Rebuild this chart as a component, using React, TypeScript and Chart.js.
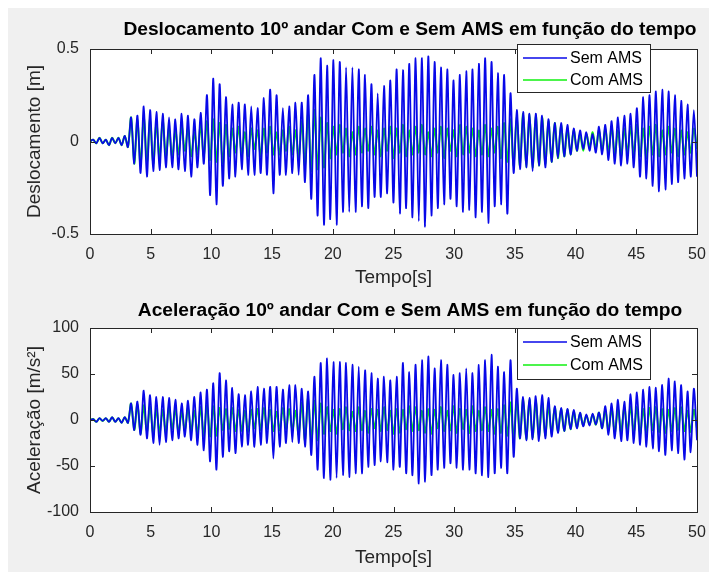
import React, { useEffect, useRef } from "react";
import { Chart, registerables } from "chart.js";
Chart.register(...registerables);

// ---------- DATA ----------
const tempoInicio = 0;
const tempoFim = 50;
const ticksTempo = [0, 5, 10, 15, 20, 25, 30, 35, 40, 45, 50];
const ticksDesloc = [-0.5, 0, 0.5];
const ticksAcel = [-100, -50, 0, 50, 100];
const serieNomes = ["Sem AMS", "Com AMS"];

const semAmsDesloc = [
  0.00, 0.01, -0.01, 0.02, -0.01, 0.01, -0.02, 0.02, -0.01, 0.02, -0.02, 0.03, -0.03,
  0.13, -0.12, 0.14, -0.17, 0.19, -0.19, 0.17, -0.16, 0.16, -0.155, 0.15, -0.14, 0.13, -0.14, 0.12, -0.15, 0.15, -0.16, 0.14, -0.19, 0.12, -0.14, 0.155, -0.12, 0.25, -0.29, 0.34, -0.34, 0.31, -0.24, 0.24, -0.20, 0.20, -0.19, 0.21,
  -0.15, 0.20, -0.18, 0.19, -0.18, 0.18, -0.17, 0.235, -0.18, 0.28, -0.28, 0.25, -0.18, 0.18, -0.18, 0.19, -0.17, 0.21, -0.18, 0.21, -0.22, 0.25, -0.31, 0.36, -0.40, 0.45, -0.45, 0.41, -0.42, 0.44, -0.45, 0.43, -0.38, 0.40, -0.38, 0.40, -0.38, 0.39, -0.35, 0.36, -0.36, 0.31, -0.30, 0.26, -0.30,
  0.30, -0.28, 0.33, -0.33, 0.39, -0.39, 0.385, -0.36, 0.42, -0.41, 0.45, -0.43, 0.45, -0.46, 0.46, -0.40, 0.43, -0.36, 0.40, -0.34, 0.39, -0.31, 0.33, -0.35, 0.36, -0.38, 0.38, -0.37, 0.39, -0.41, 0.42, -0.38, 0.45, -0.44, 0.43, -0.35, 0.37, -0.34, 0.36, -0.39, 0.26, -0.17, 0.17,
  -0.15, 0.16, -0.14, 0.15, -0.16, 0.15, -0.13, 0.14, -0.14, 0.12, -0.11, 0.10, -0.09, 0.10, -0.08, 0.09, -0.07, 0.07, -0.05, 0.06, -0.04, 0.05, -0.05, 0.04, -0.06, 0.08, -0.07, 0.09, -0.10, 0.11, -0.12, 0.13, -0.13, 0.14, -0.12, 0.15, -0.14, 0.18, -0.19, 0.24, -0.20, 0.25, -0.24, 0.27, -0.27, 0.28, -0.26, 0.27, -0.23, 0.25, -0.22, 0.22, -0.20, 0.20, -0.19, 0.17, -0.19,
];

const comAmsDesloc = [
  0.00, 0.01, -0.01, 0.02, -0.01, 0.01, -0.02, 0.02, -0.01, 0.02, -0.02, 0.03, -0.03,
  0.13, -0.12, 0.12, -0.13, 0.13, -0.11, 0.12, -0.12, 0.10, -0.09, 0.11, -0.08, 0.07, -0.09, 0.06, -0.07, 0.08, -0.05, 0.07, -0.08, 0.05, -0.07, 0.09, -0.08, 0.11, -0.10, 0.12, -0.11, 0.10, -0.12, 0.09, -0.08, 0.07, -0.06, 0.08,
  -0.07, 0.05, -0.08, 0.07, -0.04, 0.06, -0.08, 0.07, -0.06, 0.08, -0.07, 0.05, -0.07, 0.06, -0.05, 0.08, -0.07, 0.06, -0.09, 0.11, -0.13, 0.15, -0.16, 0.17, -0.15, 0.13, -0.14, 0.10, -0.09, 0.08, -0.07, 0.09, -0.06, 0.07, -0.08, 0.05, -0.07, 0.08, -0.06, 0.07, -0.05, 0.08, -0.07, 0.06, -0.08,
  0.07, -0.05, 0.08, -0.09, 0.07, -0.06, 0.09, -0.08, 0.06, -0.07, 0.08, -0.06, 0.09, -0.07, 0.05, -0.08, 0.07, -0.06, 0.08, -0.09, 0.07, -0.05, 0.06, -0.08, 0.09, -0.07, 0.08, -0.06, 0.07, -0.08, 0.06, -0.07, 0.09, -0.08, 0.07, -0.06, 0.08, -0.09, 0.10, -0.11, 0.12, -0.13, 0.14,
  -0.13, 0.15, -0.14, 0.15, -0.14, 0.14, -0.13, 0.13, -0.12, 0.11, -0.11, 0.10, -0.09, 0.09, -0.08, 0.07, -0.07, 0.06, -0.05, 0.04, -0.05, 0.04, -0.03, 0.05, -0.04, 0.06, -0.05, 0.07, -0.06, 0.08, -0.07, 0.06, -0.08, 0.07, -0.06, 0.08, -0.07, 0.09, -0.08, 0.07, -0.09, 0.08, -0.07, 0.09, -0.08, 0.06, -0.07, 0.08, -0.06, 0.07, -0.08, 0.06, -0.07, 0.05, -0.06, 0.07, -0.04,
];

const semAmsAcel = [
  0, 1, -2, 2, -1, 2, -2, 3, -2, 2, -3, 3, -3,
  18, -11, 20, -16, 32, -20, 27, -25, 25, -27, 25, -24, 24, -22, 22, -20, 18, -18, 21, -22, 25, -27, 30, -33, 33, -45, 40, -54, 51, -40, 43, -34, 35, -36, 28,
  -29, 27, -27, 31, -29, 36, -27, 34, -25, 36, -42, 36, -29, 33, -25, 38, -24, 38, -25, 34, -29, 31, -38, 47, -54, 62, -63, 67, -65, 63, -63, 63, -60, 62, -62, 60, -58, 58, -58, 54, -51, 51, -49, 45, -45,
  47, -46, 43, -54, 47, -51, 62, -58, 52, -60, 60, -69, 65, -67, 69, -60, 56, -54, 65, -52, 60, -47, 49, -52, 51, -54, 56, -54, 51, -58, 60, -60, 65, -62, 71, -58, 58, -52, 52, -58, 65, -40, 34,
  -20, 25, -22, 24, -21, 26, -23, 27, -20, 24, -18, 15, -14, 13, -12, 12, -10, 11, -9, 8, -7, 6, -6, 7, -5, 8, -9, 15, -16, 18, -20, 22, -23, 20, -22, 28, -25, 30, -27, 33, -29, 36, -31, 35, -34, 38, -38, 45, -33, 42, -36, 38, -43, 31, -35, 34, -22,
];

const comAmsAcel = [
  0, 1, -2, 2, -1, 2, -2, 3, -2, 2, -3, 3, -3,
  18, -11, 17, -15, 16, -13, 15, -16, 12, -14, 11, -13, 15, -10, 12, -14, 9, -11, 13, -12, 10, -15, 14, -17, 16, -18, 15, -17, 13, -11, 12, -10, 13, -12, 11,
  -12, 10, -13, 11, -9, 12, -11, 13, -10, 11, -12, 9, -11, 13, -10, 12, -11, 10, -16, 19, -22, 24, -23, 21, -22, 18, -15, 14, -12, 11, -15, 12, -10, 14, -11, 9, -12, 14, -11, 10, -14, 12, -9, 11, -12,
  14, -11, 10, -15, 12, -14, 11, -10, 15, -12, 14, -11, 10, -14, 12, -15, 11, -9, 14, -12, 10, -11, 15, -14, 12, -10, 11, -14, 15, -12, 10, -11, 14, -12, 11, -15, 12, -14, 16, -17, 19, -20, 22,
  -20, 23, -21, 22, -19, 20, -18, 19, -17, 16, -15, 14, -13, 12, -12, 11, -10, 9, -8, 7, -6, 5, -5, 6, -5, 8, -9, 11, -12, 13, -14, 12, -13, 14, -12, 15, -13, 14, -15, 12, -14, 13, -11, 14, -13, 12, -14, 11, -12, 13, -11, 14, -12, 10, -13, 11, -9,
];

// ---------- STYLE ----------
const FONT = "'Liberation Sans', Arial, Helvetica, sans-serif";
const AXIS_COLOR = "#262626";
const BLUE = "#0808e8";
const GREEN = "#10f010";
const W = 701;

const toPoints = (vals: number[]) =>
  vals.map((v, i) => ({ x: tempoInicio + (i * (tempoFim - tempoInicio)) / (vals.length - 1), y: v }));

const matlabAxes = {
  id: "matlabAxes",
  beforeDatasetsDraw(chart: any) {
    const { ctx, chartArea: a } = chart;
    ctx.save();
    ctx.fillStyle = "#ffffff";
    ctx.fillRect(a.left, a.top, a.right - a.left, a.bottom - a.top);
    ctx.restore();
  },
  afterDatasetsDraw(chart: any, _args: any, opts: any) {
    const { ctx, chartArea: a, scales } = chart;
    const xs = scales.x;
    const ys = scales.y;
    ctx.save();
    ctx.strokeStyle = AXIS_COLOR;
    ctx.lineWidth = 1;
    const tl = 5;
    ctx.beginPath();
    xs.ticks.forEach((t: any) => {
      const px = Math.round(xs.getPixelForValue(t.value)) + 0.5;
      ctx.moveTo(px, a.bottom);
      ctx.lineTo(px, a.bottom - tl);
      ctx.moveTo(px, a.top);
      ctx.lineTo(px, a.top + tl);
    });
    ys.ticks.forEach((t: any) => {
      const py = Math.round(ys.getPixelForValue(t.value)) + 0.5;
      ctx.moveTo(a.left, py);
      ctx.lineTo(a.left + tl, py);
      ctx.moveTo(a.right, py);
      ctx.lineTo(a.right - tl, py);
    });
    ctx.stroke();
    ctx.strokeRect(Math.round(a.left) + 0.5, Math.round(a.top) + 0.5, Math.round(a.right - a.left), Math.round(a.bottom - a.top));

    // title
    ctx.fillStyle = "#000000";
    ctx.font = `bold 19.2px ${FONT}`;
    ctx.textAlign = "center";
    ctx.textBaseline = "middle";
    ctx.fillText(opts.title, (a.left + a.right) / 2 + opts.titleShift, opts.titleY);

    // legend
    const lg = opts.legend;
    const lx = a.right + lg.dx;
    const ly = a.top + lg.dy;
    ctx.fillStyle = "#ffffff";
    ctx.fillRect(lx, ly, lg.w, lg.h);
    ctx.strokeStyle = AXIS_COLOR;
    ctx.lineWidth = 1;
    ctx.strokeRect(lx + 0.5, ly + 0.5, lg.w, lg.h);
    ctx.font = `16px ${FONT}`;
    ctx.textAlign = "left";
    ctx.textBaseline = "middle";
    chart.data.datasets.forEach((ds: any, i: number) => {
      const ry = ly + lg.rows[i];
      ctx.strokeStyle = ds.borderColor;
      ctx.lineWidth = 1.5;
      ctx.beginPath();
      ctx.moveTo(lx + 6, ry);
      ctx.lineTo(lx + 50, ry);
      ctx.stroke();
      ctx.fillStyle = "#000000";
      ctx.fillText(ds.label, lx + 53, ry + 1);
    });
    ctx.restore();
  },
};

function makeConfig(opts: {
  sem: number[];
  com: number[];
  yTicks: number[];
  yLabel: string;
  title: string;
  titleY: number;
  padTop: number;
  xHeight: number;
  xTitlePadBottom: number;
  legend: any;
}) {
  return {
    type: "line",
    data: {
      datasets: [
        { label: serieNomes[0], data: toPoints(opts.sem), borderColor: BLUE, borderWidth: 1.8, pointRadius: 0, tension: 0.3 },
        { label: serieNomes[1], data: toPoints(opts.com), borderColor: GREEN, borderWidth: 2, pointRadius: 0, tension: 0.3 },
      ],
    },
    options: {
      responsive: false,
      animation: false,
      events: [],
      layout: { padding: { top: opts.padTop, left: 0, right: 12, bottom: 0 } },
      plugins: {
        legend: { display: false },
        tooltip: { enabled: false },
        title: { display: false },
        matlabAxes: { title: opts.title, titleY: opts.titleY, titleShift: 16.5, legend: opts.legend },
      },
      scales: {
        x: {
          type: "linear",
          min: tempoInicio,
          max: tempoFim,
          grid: { display: false },
          border: { display: false },
          afterBuildTicks: (s: any) => {
            s.ticks = ticksTempo.map((v) => ({ value: v }));
          },
          afterFit: (s: any) => {
            s.height = opts.xHeight;
            s.paddingLeft = 0;
            s.paddingRight = 0;
          },
          ticks: { color: AXIS_COLOR, font: { family: FONT, size: 16 }, padding: 3, maxRotation: 0, autoSkip: false },
          title: {
            display: true,
            text: "Tempo[s]",
            color: AXIS_COLOR,
            font: { family: FONT, size: 19 },
            padding: { top: 0, bottom: opts.xTitlePadBottom },
          },
        },
        y: {
          type: "linear",
          min: opts.yTicks[0],
          max: opts.yTicks[opts.yTicks.length - 1],
          grid: { display: false },
          border: { display: false },
          afterBuildTicks: (s: any) => {
            s.ticks = opts.yTicks.map((v) => ({ value: v }));
          },
          afterFit: (s: any) => {
            s.width = 82;
            s.paddingTop = 0;
            s.paddingBottom = 0;
          },
          ticks: { color: AXIS_COLOR, font: { family: FONT, size: 16 }, padding: 3 },
          title: {
            display: true,
            text: opts.yLabel,
            color: AXIS_COLOR,
            font: { family: FONT, size: 19 },
            padding: { top: 15, bottom: 0 },
          },
        },
      },
    },
    plugins: [matlabAxes],
  } as any;
}

function ChartCanvas({ config, height }: { config: any; height: number }) {
  const ref = useRef<HTMLCanvasElement | null>(null);
  useEffect(() => {
    if (!ref.current) return;
    const chart = new Chart(ref.current, config);
    return () => chart.destroy();
  }, [config]);
  return <canvas ref={ref} width={W} height={height} style={{ display: "block", width: W, height }} />;
}

const topConfig = makeConfig({
  sem: semAmsDesloc,
  com: comAmsDesloc,
  yTicks: ticksDesloc,
  yLabel: "Deslocamento [m]",
  title: "Deslocamento 10º andar Com e Sem AMS em função do tempo",
  titleY: 22,
  padTop: 41,
  xHeight: 56,
  xTitlePadBottom: 0.6,
  legend: { dx: -180, dy: -5, w: 133, h: 48, rows: [14, 36] },
});

const bottomConfig = makeConfig({
  sem: semAmsAcel,
  com: comAmsAcel,
  yTicks: ticksAcel,
  yLabel: "Aceleração [m/s²]",
  title: "Aceleração 10º andar Com e Sem AMS em função do tempo",
  titleY: 21,
  padTop: 38,
  xHeight: 60,
  xTitlePadBottom: 2.6,
  legend: { dx: -180, dy: 0, w: 133, h: 51, rows: [14, 37] },
});

export default function App() {
  return (
    <div style={{ position: "fixed", left: 0, top: 0, width: 709, height: 572, background: "#ffffff", overflow: "hidden" }}>
      <div style={{ position: "absolute", left: 8, top: 8, width: W, height: 564, background: "#f0f0f0" }}>
        <ChartCanvas config={topConfig} height={282} />
        <ChartCanvas config={bottomConfig} height={282} />
      </div>
    </div>
  );
}
